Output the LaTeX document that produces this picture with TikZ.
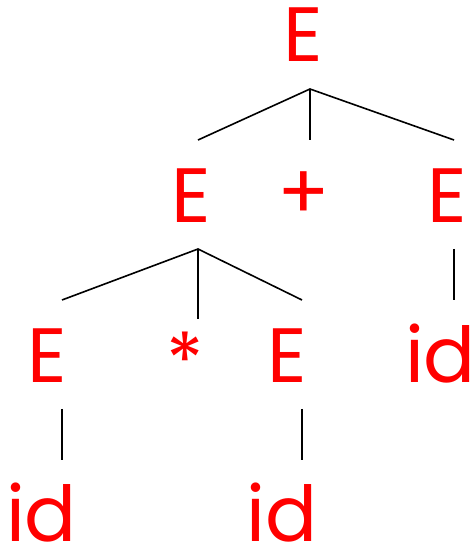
\documentclass[tikz,border=0pt]{standalone}
\usepackage{fontspec}
\setmainfont{Poppins}
\begin{document}
\begin{tikzpicture}[x=1pt,y=1pt,
  sym/.style={text=red, inner sep=0pt, font=\fontsize{77}{77}\selectfont},
  leaf/.style={sym, anchor=base},
  edge/.style={line width=1.6pt, line cap=butt}]
\useasboundingbox (0,0) rectangle (473,547);

% grammar symbols
\node[leaf] (root) at (303,485) {E};
\node[leaf] (eL)   at (191,324) {E};
\node[sym]  (plus) at (303.5,351.5) {+};
\node[leaf] (eR)   at (447,324) {E};
\node[leaf] (eLL)  at (47,164) {E};
\node[sym]  (star) at (185,186.5) {*};
\node[leaf] (eLR)  at (287,164) {E};
\node[leaf] (idR)  at (440.5,164) {id};
\node[leaf] (idLL) at (41.5,5.5) {id};
\node[leaf] (idLR) at (282,5.5) {id};

% branch points
\coordinate (r0) at (310,458);
\coordinate (r1) at (198,407);
\coordinate (r2) at (310,407);
\coordinate (r3) at (454,407);
\coordinate (a0) at (198,298);
\coordinate (a1) at (62,247);
\coordinate (a2) at (198,228);
\coordinate (a3) at (302,247);
\coordinate (b0) at (454,298);
\coordinate (b1) at (454,247);
\coordinate (c0) at (62,138);
\coordinate (c1) at (62,87);
\coordinate (d0) at (302,138);
\coordinate (d1) at (302,87);

% tree edges
\draw[edge] (r1) -- (r0) -- (r3);
\draw[edge] (r0) -- (r2);
\draw[edge] (a1) -- (a0) -- (a3);
\draw[edge] (a0) -- (a2);
\draw[edge] (b0) -- (b1);
\draw[edge] (c0) -- (c1);
\draw[edge] (d0) -- (d1);
\end{tikzpicture}
\end{document}
